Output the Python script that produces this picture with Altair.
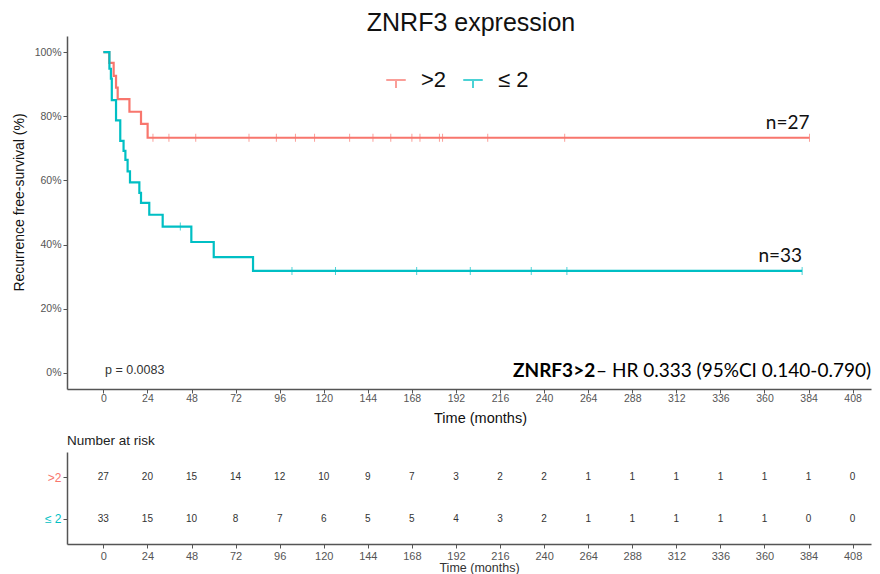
import altair as alt
import pandas as pd

# ---- data ----
groups = [">2", "≤ 2"]
colors = ["#F8766D", "#00BFC4"]

hi_time = [0, 3.2, 5.6, 6.9, 7.8, 14.2, 20.5, 24.1, 384.5]
hi_surv = [100, 96.6, 92.6, 88.9, 85.3, 81.4, 77.6, 73.3, 73.3]
lo_time = [0, 3.3, 4.1, 4.6, 6.9, 9.2, 11.0, 12.0, 13.2, 14.5, 19.6, 20.5, 25.0, 32.3, 47.9, 60.1, 81.5, 380.5]
lo_surv = [100, 94.8, 91.7, 85.0, 78.7, 72.3, 69.2, 66.4, 62.8, 59.4, 56.1, 53.0, 49.3, 45.6, 40.8, 36.1, 31.8, 31.8]

hi_cens = [27, 35.7, 50.3, 79.3, 94.2, 104.6, 115, 134.1, 146.8, 156.5, 168, 172.4, 183, 184.7, 209.3, 251.2, 384.5]
lo_cens = [41.9, 102.7, 126.4, 170.6, 199.8, 233, 252.4, 380.5]

risk_times = [0, 24, 48, 72, 96, 120, 144, 168, 192, 216, 240, 264, 288, 312, 336, 360, 384, 408]
hi_risk = [27, 20, 15, 14, 12, 10, 9, 7, 3, 2, 2, 1, 1, 1, 1, 1, 1, 0]
lo_risk = [33, 15, 10, 8, 7, 6, 5, 5, 4, 3, 2, 1, 1, 1, 1, 1, 0, 0]

n_labels = ["n=27", "n=33"]
y_ticks = [0, 20, 40, 60, 80, 100]
title_text = "ZNRF3 expression"
p_text = "p = 0.0083"
hr_bold = "ZNRF3>2"
hr_rest = "– HR 0.333 (95%CI 0.140-0.790)"

# ---- tables ----
curve = pd.concat([
    pd.DataFrame({"time": hi_time, "surv": hi_surv, "group": groups[0]}),
    pd.DataFrame({"time": lo_time, "surv": lo_surv, "group": groups[1]}),
])


def step_value(times, survs, t):
    v = survs[0]
    for tt, s in zip(times, survs):
        if tt <= t:
            v = s
    return v


cens = pd.concat([
    pd.DataFrame({"time": hi_cens, "surv": [step_value(hi_time, hi_surv, t) for t in hi_cens], "group": groups[0]}),
    pd.DataFrame({"time": lo_cens, "surv": [step_value(lo_time, lo_surv, t) for t in lo_cens], "group": groups[1]}),
])

ends = pd.DataFrame({
    "time": [hi_time[-1], lo_time[-1]],
    "surv": [hi_surv[-1], lo_surv[-1]],
    "label": n_labels,
})

risk = pd.concat([
    pd.DataFrame({"time": risk_times, "n": hi_risk, "group": groups[0]}),
    pd.DataFrame({"time": risk_times, "n": lo_risk, "group": groups[1]}),
])

FONT = "Liberation Sans"
xdom = [-19.8, 418]
xscale = alt.Scale(domain=xdom, nice=False, zero=False)
color_scale = alt.Scale(domain=groups, range=colors)

legend = alt.Legend(
    title=None, orient="none", legendX=318, legendY=33, direction="horizontal",
    symbolType="M-1,0L1,0M0,0L0,0.8", symbolSize=380, symbolStrokeWidth=2,
    symbolFillColor="transparent", labelFontSize=22, labelFont=FONT, labelColor="#111",
    labelOffset=14, columnPadding=12,
)

x_axis_main = alt.Axis(
    values=risk_times, title="Time (months)", grid=False, tickSize=4, labelPadding=0,
    labelFontSize=10.5, labelColor="#555", labelFont=FONT, titleFont=FONT,
    titleFontSize=14.5, titleFontWeight="normal", titleColor="#111", titlePadding=8,
    titleX=413, domainColor="#555", domainWidth=1.5, tickColor="#555",
)
y_axis_main = alt.Axis(
    values=y_ticks, labelExpr="datum.value + '%'", title="Recurrence free-survival (%)",
    grid=False, tickSize=4, labelPadding=2, labelFontSize=10.5, labelColor="#555",
    labelFont=FONT, titleFont=FONT, titleFontSize=14, titleFontWeight="normal",
    titleColor="#111", titlePadding=8, titleY=166, domainColor="#555", domainWidth=1.5,
    tickColor="#555",
)

base_x = alt.X("time:Q", scale=xscale, axis=x_axis_main)
base_y = alt.Y("surv:Q", scale=alt.Scale(domain=[-5, 105], nice=False), axis=y_axis_main)

lines = alt.Chart(curve).mark_line(interpolate="step-after", strokeWidth=2.2).encode(
    x=base_x, y=base_y,
    color=alt.Color("group:N", scale=color_scale, legend=legend),
)

ticks = alt.Chart(cens).mark_tick(orient="vertical", size=8, thickness=1).encode(
    x=base_x, y=base_y,
    color=alt.Color("group:N", scale=color_scale, legend=legend),
)

nlab = alt.Chart(ends).mark_text(
    align="right", baseline="bottom", dy=-5, font="Lato", fontSize=19, color="#111"
).encode(x=base_x, y=base_y, text="label:N")

ann_df = pd.DataFrame({"p": [p_text], "b": [hr_bold], "r": [hr_rest]})
ptxt = alt.Chart(ann_df).mark_text(
    align="left", baseline="middle", font=FONT, fontSize=12.5, color="#333"
).encode(x=alt.value(38), y=alt.value(334), text="p:N")
hrb = alt.Chart(ann_df).mark_text(
    align="left", baseline="middle", font="Lato", fontSize=19, fontWeight="bold", color="#000"
).encode(x=alt.value(446), y=alt.value(335), text="b:N")
hrr = alt.Chart(ann_df).mark_text(
    align="left", baseline="middle", font="Lato", fontSize=19, color="#000"
).encode(x=alt.value(529), y=alt.value(335), text="r:N")

main = alt.layer(lines, ticks, nlab, ptxt, hrb, hrr).properties(
    width=804, height=353,
    title=alt.TitleParams(title_text, fontSize=25, font=FONT, fontWeight="normal",
                          anchor="middle", frame="group", offset=0, color="#111", dx=2),
)

risk_chart = alt.Chart(risk).mark_text(font=FONT, fontSize=10, color="#333").encode(
    x=alt.X("time:Q", scale=xscale, axis=alt.Axis(
        values=risk_times, title="Time (months)", grid=False, tickSize=4, labelPadding=2,
        labelFontSize=11, labelColor="#555", labelFont=FONT, titleFont=FONT,
        titleFontSize=12.5, titleFontWeight="normal", titleColor="#333", titlePadding=0,
        titleX=412, domainColor="#555", domainWidth=1.5, tickColor="#555")),
    y=alt.Y("group:N", scale=alt.Scale(type="point", domain=groups, padding=0.62), axis=alt.Axis(
        title=None, tickSize=4, labelPadding=2, labelFontSize=12, labelFont=FONT,
        labelColor=alt.condition("datum.value == '>2'", alt.value(colors[0]), alt.value(colors[1])),
        domainColor="#555", domainWidth=1.5, tickColor="#555")),
    text="n:Q",
).properties(
    width=804, height=92,
    title=alt.TitleParams("Number at risk", fontSize=13.5, font=FONT, fontWeight="normal",
                          anchor="start", frame="group", offset=5, color="#222"),
)

chart = alt.vconcat(main, risk_chart, spacing=8).properties(
    padding={"left": 4, "top": 3, "right": 0, "bottom": 0}
).configure(background="white").configure_view(stroke=None)

chart.save("out.html", embed_options={"renderer": "svg", "actions": False})
